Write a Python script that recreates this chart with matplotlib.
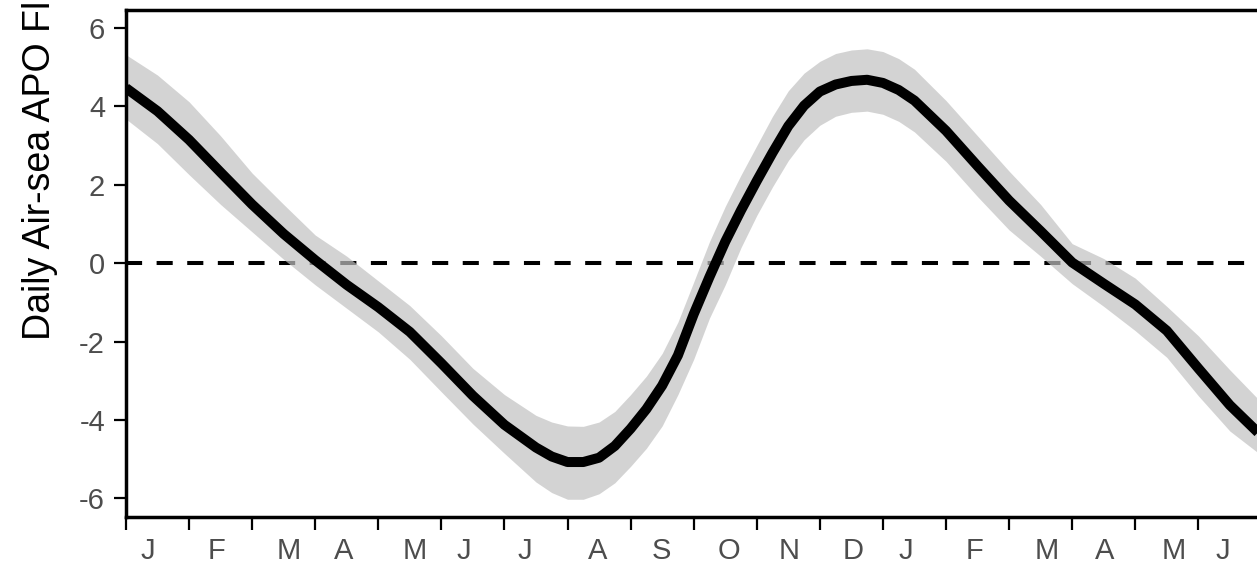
import numpy as np
import matplotlib
matplotlib.use('Agg')
import matplotlib.pyplot as plt

plt.rcParams['font.family'] = ['Liberation Sans', 'DejaVu Sans']

# months since 1 January (0 = start of Jan, 12 = start of next Jan)
mes = [0, 0.5, 1, 1.5, 2, 2.5, 3, 3.5, 4, 4.5, 5, 5.5, 6, 6.5, 6.75, 7, 7.25,
       7.5, 7.75, 8, 8.25, 8.5, 8.75, 9, 9.25, 9.5, 9.75, 10, 10.25, 10.5,
       10.75, 11, 11.25, 11.5, 11.75, 12, 12.25, 12.5, 13, 13.5, 14, 14.5,
       15, 15.5, 16, 16.5, 17, 17.5, 18]

# mean daily air-sea APO flux
fluxo = [4.47, 3.88, 3.15, 2.32, 1.50, 0.75, 0.08, -0.55, -1.12, -1.75,
         -2.55, -3.38, -4.12, -4.70, -4.93, -5.07, -5.07, -4.96, -4.66,
         -4.22, -3.72, -3.12, -2.35, -1.30, -0.35, 0.55, 1.35, 2.10, 2.82,
         3.50, 4.02, 4.38, 4.56, 4.65, 4.68, 4.60, 4.42, 4.15, 3.38, 2.48,
         1.60, 0.82, 0.02, -0.52, -1.05, -1.72, -2.68, -3.62, -4.40]

# uncertainty band
fluxo_sup = [5.32, 4.80, 4.12, 3.25, 2.30, 1.50, 0.72, 0.18, -0.45, -1.08,
             -1.85, -2.68, -3.35, -3.88, -4.05, -4.15, -4.16, -4.05, -3.78,
             -3.35, -2.88, -2.30, -1.50, -0.48, 0.55, 1.45, 2.25, 3.00, 3.75,
             4.40, 4.85, 5.15, 5.35, 5.44, 5.47, 5.40, 5.22, 4.95, 4.15, 3.25,
             2.35, 1.50, 0.50, 0.12, -0.38, -1.10, -1.85, -2.72, -3.55]
fluxo_inf = [3.68, 3.05, 2.26, 1.50, 0.80, 0.10, -0.55, -1.15, -1.75, -2.45,
             -3.28, -4.10, -4.85, -5.58, -5.85, -6.02, -6.02, -5.88, -5.60,
             -5.18, -4.72, -4.15, -3.35, -2.45, -1.40, -0.55, 0.40, 1.22,
             1.95, 2.62, 3.15, 3.52, 3.75, 3.85, 3.88, 3.80, 3.62, 3.35, 2.60,
             1.70, 0.85, 0.18, -0.52, -1.10, -1.72, -2.40, -3.38, -4.28, -4.90]

rotulos_meses = ['J', 'F', 'M', 'A', 'M', 'J', 'J', 'A', 'S', 'O', 'N', 'D',
                 'J', 'F', 'M', 'A', 'M', 'J']
pos_rotulos = [0.34, 1.43, 2.58, 3.45, 4.58, 5.36, 6.33, 7.48, 8.49, 9.56,
               10.52, 11.52, 12.37, 13.45, 14.60, 15.52, 16.61, 17.39]

fig = plt.figure(figsize=(12.57, 5.65), dpi=100)
# eixo mais largo que a figura: o lado direito fica cortado como no original
ax = fig.add_axes([0.1002, 0.0858, 0.9284, 0.8965])

ax.axhline(0, color='black', lw=2.9, dashes=(4, 3.6), zorder=1)
ax.fill_between(mes, fluxo_inf, fluxo_sup, color='#c1c1c1', alpha=0.7,
                lw=0, zorder=2)
ax.plot(mes, fluxo, color='black', lw=7.2, solid_capstyle='butt',
        solid_joinstyle='round', zorder=3)

ax.set_xlim(0, 18.5)
ax.set_ylim(-6.46, 6.46)
ax.set_yticks([-6, -4, -2, 0, 2, 4, 6])
ax.set_yticklabels(['-6', '-4', '-2', '0', '2', '4', '6'])

ax.set_xticks(np.arange(0, 19))
ax.set_xticklabels([])
ax.set_xticks(pos_rotulos, minor=True)
ax.set_xticklabels(rotulos_meses, minor=True)

for s in ax.spines.values():
    s.set_linewidth(2.5)
ax.tick_params(axis='both', which='major', length=9, width=1.6,
               color='black', labelsize=21, labelcolor='#4d4d4d', pad=6)
ax.tick_params(axis='x', which='minor', length=0, labelsize=21,
               labelcolor='#4d4d4d', pad=15)

# rótulo do eixo y: no original só aparece até "Fl"
fig.text(0.032, 0.398, 'Daily Air-sea APO Fl', rotation=90,
         ha='center', va='bottom', fontsize=27, color='black')

plt.savefig('out.png', dpi=100)
